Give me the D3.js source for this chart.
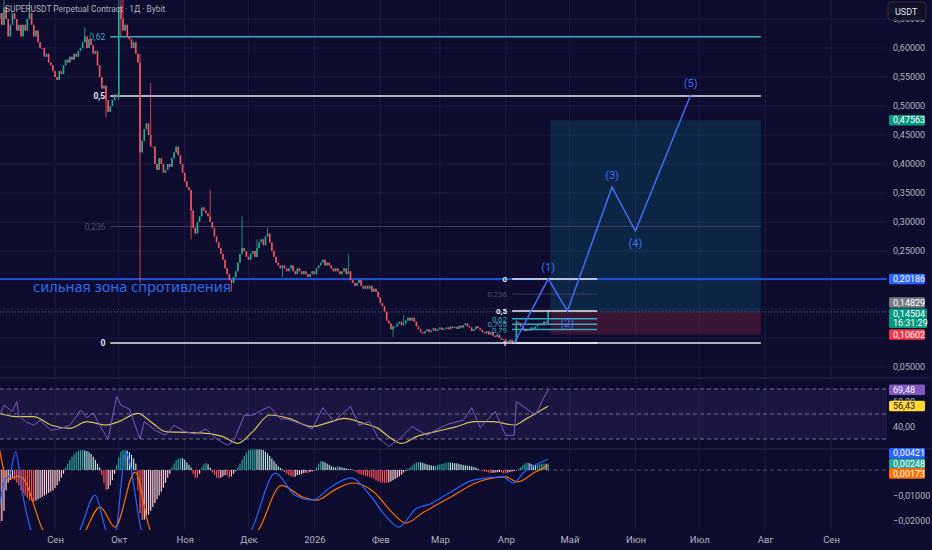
<!DOCTYPE html>
<meta charset="utf-8">
<html>
<head>
    <title>SUPERUSDT Perpetual Contract · 1Д · Bybit</title>
    <script type="text/javascript" src="https://cdn.jsdelivr.net/npm/d3@7"></script>
    <style>
        body { margin: 0; background: #0d0c2f; overflow: hidden; }
        svg text { font-family: Roboto, "Noto Sans", sans-serif; }
    </style>
</head>
<body>
<script>
    // ---- data ----
    const startDate = "2025-08-06";   // first daily candle
    const firstOpen = 0.65;

    // daily closes, Aug 6 2025 -> Apr 21 2026
    const closes = [
        0.66, 0.64, 0.67, 0.65, 0.62, 0.64, 0.66, 0.65, 0.63, 0.64,
        0.62, 0.64, 0.63, 0.65, 0.66, 0.64, 0.62, 0.63, 0.61, 0.60,
        0.60, 0.585, 0.59, 0.575, 0.57, 0.56, 0.55, 0.545, 0.56, 0.555,
        0.57, 0.58, 0.575, 0.585, 0.58, 0.59, 0.585, 0.595, 0.60, 0.61,
        0.62, 0.60, 0.615, 0.605, 0.59, 0.595, 0.57, 0.55, 0.53, 0.535,
        0.51, 0.49, 0.50, 0.51, 0.52, 0.515, 0.67, 0.65, 0.63, 0.64,
        0.62, 0.615, 0.60, 0.61, 0.59, 0.575, 0.42, 0.44, 0.46, 0.47,
        0.45, 0.43, 0.43, 0.40, 0.39, 0.41, 0.40, 0.385, 0.39, 0.40,
        0.395, 0.41, 0.42, 0.43, 0.415, 0.40, 0.385, 0.37, 0.36, 0.355,
        0.32, 0.29, 0.28, 0.30, 0.31, 0.325, 0.32, 0.315, 0.31, 0.30,
        0.29, 0.275, 0.265, 0.255, 0.245, 0.235, 0.22, 0.21, 0.20, 0.195,
        0.205, 0.215, 0.23, 0.245, 0.255, 0.25, 0.24, 0.235, 0.245, 0.25,
        0.24, 0.255, 0.265, 0.27, 0.26, 0.275, 0.28, 0.265, 0.25, 0.24,
        0.23, 0.225, 0.22, 0.225, 0.22, 0.215, 0.22, 0.225, 0.215, 0.21,
        0.22, 0.215, 0.21, 0.215, 0.21, 0.205, 0.21, 0.215, 0.21, 0.22,
        0.225, 0.23, 0.235, 0.225, 0.23, 0.225, 0.22, 0.215, 0.22, 0.215,
        0.21, 0.215, 0.22, 0.21, 0.215, 0.20, 0.195, 0.19, 0.195, 0.20,
        0.19, 0.185, 0.19, 0.185, 0.19, 0.18, 0.185, 0.18, 0.17, 0.16,
        0.155, 0.145, 0.13, 0.125, 0.115, 0.12, 0.12, 0.125, 0.128, 0.122,
        0.125, 0.13, 0.135, 0.13, 0.135, 0.128, 0.12, 0.115, 0.11, 0.108,
        0.112, 0.115, 0.11, 0.113, 0.117, 0.112, 0.115, 0.118, 0.114, 0.116,
        0.118, 0.115, 0.12, 0.117, 0.119, 0.116, 0.121, 0.118, 0.122, 0.125,
        0.12, 0.118, 0.112, 0.115, 0.12, 0.117, 0.114, 0.11, 0.108, 0.112,
        0.106, 0.11, 0.104, 0.102, 0.106, 0.10, 0.097, 0.098, 0.095, 0.093,
        0.097, 0.092, 0.095, 0.128, 0.125, 0.12, 0.116, 0.112, 0.115, 0.113,
        0.118, 0.116, 0.12, 0.123, 0.125, 0.122, 0.128, 0.126, 0.145
    ];
    // visible wicks: [candle index, high, low]
    const wicks = [
        [2, 0.69, null], [14, 0.68, null], [40, 0.635, null], [50, null, 0.48],
        [56, 0.70, 0.51], [57, 0.70, 0.62], [58, 0.69, null], [66, 0.59, 0.195],
        [71, 0.54, null], [90, null, 0.27], [99, 0.355, null], [109, null, 0.18],
        [114, 0.31, null], [121, 0.27, null], [126, 0.29, null], [133, null, 0.205],
        [164, 0.245, null], [185, null, 0.102], [190, 0.14, null], [241, null, 0.091],
        [243, 0.131, 0.093], [258, 0.148, 0.124]
    ];

    // MACD histogram, one value per candle
    const hist = [
        -0.021, -0.02, -0.016,
        -0.008, -0.005, -0.004, -0.003, -0.004, -0.005,
        -0.006, -0.008, -0.009, -0.010, -0.011, -0.012, -0.012, -0.0125, -0.012, -0.0115,
        -0.011, -0.0105, -0.01, -0.0095, -0.009, -0.0085, -0.008, -0.007, -0.006, -0.0045,
        -0.003, -0.0015,
        0.001, 0.0025, 0.004, 0.0052, 0.0062, 0.007, 0.0076, 0.0078, 0.0078, 0.0077,
        0.0074, 0.007, 0.0063, 0.0052, 0.004, 0.0025, 0.001,
        -0.002, -0.005, -0.0078, -0.0075, -0.006, -0.004, -0.0015,
        0.002, 0.005, 0.0072, 0.0078, 0.0078, 0.0076, 0.007, 0.006, 0.0045, 0.0025,
        -0.008, -0.017, -0.0196, -0.0195, -0.019, -0.0175, -0.016, -0.0145, -0.013, -0.0115,
        -0.01, -0.0085, -0.007, -0.005, -0.003, -0.0015,
        0.001, 0.0025, 0.0038, 0.0045, 0.0047, 0.0046, 0.004, 0.003, 0.002, 0.001,
        -0.0015, -0.003, -0.003, -0.0015,
        0.001, 0.0022, 0.0027, 0.0022, 0.001,
        -0.001, -0.002, -0.003, -0.0032, -0.003, -0.0025, -0.002, -0.0022, -0.003, -0.0025,
        -0.0015, -0.0005,
        0.001, 0.0025, 0.004, 0.0055, 0.0068, 0.0078, 0.0085, 0.0088, 0.0088, 0.0087,
        0.0085, 0.0082, 0.0078, 0.0072, 0.0065, 0.0055, 0.0045, 0.0035, 0.0025, 0.0015,
        0.0008, 0.0003,
        -0.0008, -0.0015, -0.002, -0.0025, -0.0027, -0.0026, -0.002, -0.0018, -0.0016, -0.0012,
        -0.001, -0.0012, -0.0008, -0.0005, -0.0002,
        0.001, 0.0025, 0.0035, 0.0033, 0.003, 0.0025, 0.002, 0.0015, 0.0012, 0.001,
        0.0015, 0.0012, 0.001, 0.0008, 0.0006, 0.0004, 0.0003, 0.0001,
        -0.0005, -0.001, -0.0015, -0.0018, -0.002, -0.0022, -0.0025, -0.0028, -0.003, -0.0035,
        -0.004, -0.0045, -0.0048, -0.005, -0.005, -0.005, -0.0048, -0.0045, -0.004, -0.0035,
        -0.003, -0.0025, -0.0018, -0.001, -0.0004,
        0.0005, 0.001, 0.0018, 0.0025, 0.003, 0.0031, 0.003, 0.0028, 0.0025, 0.0022,
        0.002, 0.0018, 0.0016, 0.0017, 0.002, 0.0022, 0.0024, 0.0026, 0.0028, 0.003,
        0.0029, 0.0028, 0.0027, 0.0026, 0.0024, 0.0022, 0.002, 0.0018, 0.0017, 0.0016,
        0.0014, 0.0012, 0.0009, 0.0005,
        -0.0002, -0.0004, -0.0006, -0.0008, -0.001, -0.0012, -0.0011, -0.001, -0.0009, -0.0008,
        -0.001, -0.0012, -0.0012, -0.001, -0.0008, -0.0006, -0.0004, -0.0002,
        0.0005, 0.001, 0.0018, 0.0025, 0.0028, 0.0027, 0.0024, 0.002, 0.0018, 0.002,
        0.0022, 0.0025, 0.0026, 0.0024, 0.0025
    ];
    // [candle index, value]
    const macdLine = [
        [0, -0.0137], [2.4, -0.0039], [4.7, -0.002], [7.5, 0.0071], [10.4, -0.0078], [14.6, -0.0235],
        [22.6, -0.035], [32, -0.03], [37.7, -0.0235], [44.8, -0.0098], [50, -0.0235], [53.8, -0.027],
        [59.4, 0.0067], [66.5, -0.0235], [74.5, -0.045], [93.4, -0.05], [107.5, -0.035], [118.4, -0.0235],
        [129.7, -0.0012], [138.7, -0.0098], [147.2, -0.0118], [155.7, -0.0067], [165.1, -0.0031],
        [174.1, -0.0098], [181.1, -0.0176], [187.7, -0.0224], [196.2, -0.0149], [201.4, -0.0137],
        [211.3, -0.009], [223.1, -0.0039], [236.8, -0.0027], [241.5, -0.0051], [246.7, -0.0008],
        [258, 0.00421]
    ];
    const signalLine = [
        [0, 0.0078], [3.8, -0.0039], [8.5, -0.0024], [10.8, -0.0031], [20.3, -0.0235], [27.4, -0.03],
        [36.8, -0.03], [40.6, -0.0235], [47.2, -0.0145], [54.2, -0.0224], [63.7, -0.0008], [70.8, -0.0235],
        [93.4, -0.04], [121.7, -0.0235], [132.5, -0.006], [142.5, -0.0106], [149.1, -0.0118],
        [157.5, -0.0078], [166, -0.0051], [176, -0.0086], [184.4, -0.0165], [191, -0.0208],
        [199.5, -0.0165], [211.3, -0.011], [225, -0.0047], [238.2, -0.0027], [243.4, -0.0047],
        [251.9, -0.0008], [258, 0.00173]
    ];
    const rsiLine = [
        [0, 49], [2, 57], [6, 52], [8, 60], [9, 49], [12, 44], [16, 41], [19, 45], [24, 37], [28, 38],
        [33, 41], [38, 53], [41, 47], [44, 51], [48, 38], [51, 30], [55, 64], [57, 57], [61, 54],
        [66, 30], [68, 44], [73, 37], [78, 33], [82, 41], [87, 36], [92, 34], [97, 38], [102, 30],
        [107, 25], [110, 28], [115, 49], [119, 49], [122, 52], [127, 56], [132, 46], [135, 46],
        [142, 42], [147, 38], [152, 55], [157, 44], [165, 56], [169, 41], [174, 44], [178, 31],
        [183, 24], [188, 30], [194, 40], [201, 33], [206, 38], [211, 42], [218, 45], [222, 55],
        [226, 39], [233, 52], [238, 33], [242, 33], [243, 60], [248, 54], [252, 49], [255, 60],
        [258, 69.48]
    ];
    const rsiMa = [
        [0, 50.5], [7.5, 47.9], [16, 47.9], [24, 41.2], [33, 38.5], [41, 43.9], [50, 41.2],
        [56, 43.9], [65, 50.5], [72, 42.5], [78, 35.9], [87, 35.3], [97, 34.5], [105, 31.9],
        [112, 26.5], [119, 35.9], [127, 49.2], [136, 46.5], [147, 39.9], [156, 43.9], [162, 46.5],
        [171, 42.5], [178, 38.5], [184, 30.5], [189, 26.5], [196, 31.9], [205, 35.9], [215, 39.9],
        [223, 43.9], [232, 43.9], [242, 41.2], [248, 46.5], [258, 56.43]
    ];

    // axes
    const monthTicks = ["2025-09-01", "2025-10-01", "2025-11-01", "2025-12-01", "2026-01-01", "2026-02-01",
        "2026-03-01", "2026-04-01", "2026-05-01", "2026-06-01", "2026-07-01", "2026-08-01", "2026-09-01"];
    const monthLabels = ["Сен", "Окт", "Ноя", "Дек", "2026", "Фев", "Мар", "Апр", "Май", "Июн", "Июл", "Авг", "Сен"];
    const gridPrices = [0.05, 0.10, 0.15, 0.20, 0.25, 0.30, 0.35, 0.40, 0.45, 0.50, 0.55, 0.60, 0.65];
    const priceTicks = [0.05, 0.25, 0.30, 0.35, 0.40, 0.45, 0.50, 0.55, 0.60, 0.65];
    const rsiTicks = [40, 60];
    const rsiBands = [70, 50, 30];
    const macdTicks = [-0.01, -0.02];

    // drawings
    const resistance = 0.20186;
    const resistanceText = "сильная зона спротивления";
    const lastPrice = 0.14504;
    const bigFibDates = ["2025-09-27", "2026-07-30"];
    const bigFibPrices = [0.0912, 0.943];          // level 0, level 1
    const bigFibLevels = [0, 0.236, 0.5, 0.62];
    const smallFibDates = ["2026-04-04", "2026-05-14"];
    const smallFibPrices = [0.2019, 0.0912];       // level 0, level 1
    const smallFibLevels = [0, 0.236, 0.5, 0.62, 0.705, 0.79, 1];
    const positionDates = ["2026-04-22", "2026-07-30"];
    const positionEntry = 0.145;
    const positionTarget = 0.47563;
    const positionStop = 0.10602;
    const waveDates = ["2026-04-05", "2026-04-21", "2026-04-30", "2026-05-21", "2026-06-01", "2026-06-27"];
    const wavePrices = [0.0912, 0.2019, 0.1466, 0.360, 0.2845, 0.519];
    const waveLabels = ["", "(1)", "(2)", "(3)", "(4)", "(5)"];

    const priceTags = [
        {v: 0.47563, text: ["0,47563"], fill: "#089981", shift: 0},
        {v: 0.20186, text: ["0,20186"], fill: "#2962ff", shift: 0},
        {v: 0.14829, text: ["0,14829"], fill: "#787b86", shift: -7.5},
        {v: 0.14504, text: ["0,14504", "16:31:29"], fill: "#089981", shift: 0},
        {v: 0.10602, text: ["0,10602"], fill: "#f23645", shift: 0}
    ];
    const rsiTags = [
        {v: 69.48, text: ["69,48"], fill: "#7e57c2", color: "#fff", shift: 0},
        {v: 56.43, text: ["56,43"], fill: "#fdd835", color: "#131722", shift: 0}
    ];
    const macdTags = [
        {v: 0.00421, text: ["0,00421"], fill: "#2962ff", shift: -6},
        {v: 0.00248, text: ["0,00248"], fill: "#26a69a", shift: 0},
        {v: 0.00173, text: ["0,00173"], fill: "#ff6d00", shift: 8}
    ];

    // ---- layout ----
    const W = 932, H = 550;
    const plotRight = 887;
    const pane = {price: [0, 378], rsi: [378, 449], macd: [449, 530]};
    const bg = "#0d0c2f", gridColor = "#1a1946", textColor = "#b2b5be";
    const upColor = "#22ab94", downColor = "#f7525f";
    const fibTeal = "#36a9be", fibWhite = "#e6e8ee", fibFaint = "#3c3c62";
    const waveColor = "#3d6ff0";

    const svg = d3.select("body").append("svg")
        .attr("width", W).attr("height", H);
    svg.append("rect").attr("width", W).attr("height", H).attr("fill", bg);

    const day0 = new Date(startDate);
    const dayAt = i => new Date(day0.getTime() + i * 864e5);
    const ds = s => new Date(s);

    const x = d3.scaleUtc()
        .domain([ds("2025-09-01"), ds("2026-09-01")])
        .range([55, 831]);
    const y = d3.scaleLinear().domain([0.05, 0.60]).range([367, 48]);
    const yR = d3.scaleLinear().domain([30, 70]).range([439, 389]);
    const yM = d3.scaleLinear().domain([-0.02, 0]).range([521, 470]);

    const comma = f => v => f(v).replace(".", ",");
    const fmtPrice = comma(d3.format(".5f"));
    const fmtRsi = comma(d3.format(".2f"));

    // clip paths for the three panes
    const defs = svg.append("defs");
    Object.entries(pane).forEach(([k, [t, b]]) => {
        defs.append("clipPath").attr("id", "clip-" + k)
            .append("rect").attr("x", 0).attr("y", t).attr("width", plotRight).attr("height", b - t);
    });

    // ---- grid ----
    const grid = svg.append("g");
    grid.selectAll(".vg").data(monthTicks).enter().append("line")
        .attr("x1", d => x(ds(d))).attr("x2", d => x(ds(d)))
        .attr("y1", 0).attr("y2", pane.macd[1])
        .attr("stroke", gridColor).attr("stroke-width", 1);
    grid.selectAll(".hg").data(gridPrices).enter().append("line")
        .attr("x1", 0).attr("x2", plotRight)
        .attr("y1", d => y(d)).attr("y2", d => y(d))
        .attr("stroke", gridColor).attr("stroke-width", 1);

    // ---- price pane ----
    const pp = svg.append("g").attr("clip-path", "url(#clip-price)");

    // long position tool
    const px0 = x(ds(positionDates[0])), px1 = x(ds(positionDates[1]));
    pp.append("rect").attr("x", px0).attr("width", px1 - px0)
        .attr("y", y(positionTarget)).attr("height", y(positionEntry) - y(positionTarget))
        .attr("fill", "rgba(16,140,160,0.2)");
    pp.append("rect").attr("x", px0).attr("width", px1 - px0)
        .attr("y", y(positionEntry)).attr("height", y(positionStop) - y(positionEntry))
        .attr("fill", "rgba(242,54,69,0.2)");

    // resistance line + caption
    pp.append("line").attr("x1", 0).attr("x2", plotRight)
        .attr("y1", y(resistance)).attr("y2", y(resistance))
        .attr("stroke", "#2962ff").attr("stroke-width", 1.5);
    pp.append("text").attr("x", 33).attr("y", y(resistance) + 13)
        .attr("fill", "#3566e6").attr("font-size", 14.5)
        .style("font-family", "'Noto Sans', sans-serif")
        .text(resistanceText);

    // current price dotted line
    pp.append("line").attr("x1", 0).attr("x2", plotRight)
        .attr("y1", y(lastPrice)).attr("y2", y(lastPrice))
        .attr("stroke", "#6a6d88").attr("stroke-dasharray", "1,2").attr("stroke-width", 1);

    // fibonacci retracements
    function fib(dates, prices, levels, labelSize) {
        const g = pp.append("g");
        const x0 = x(ds(dates[0])), x1 = x(ds(dates[1]));
        levels.forEach(L => {
            const p = prices[0] + L * (prices[1] - prices[0]);
            const col = (L === 0 || L === 0.5 || L === 1) ? fibWhite : (L === 0.236 ? fibFaint : fibTeal);
            g.append("line").attr("x1", x0).attr("x2", x1)
                .attr("y1", y(p)).attr("y2", y(p))
                .attr("stroke", col).attr("stroke-width", col === fibFaint ? 1 : 1.5);
            g.append("text").attr("x", x0 - 5).attr("y", y(p) + 3)
                .attr("text-anchor", "end").attr("font-size", labelSize)
                .attr("font-weight", col === fibWhite ? "bold" : "normal")
                .attr("fill", col === fibFaint ? "#4a4a70" : col)
                .text(String(L).replace(".", ","));
        });
    }
    fib(bigFibDates, bigFibPrices, bigFibLevels, 8.5);

    // candles
    let prev = firstOpen;
    const candles = closes.map((c, i) => {
        const o = prev; prev = c;
        return {i, o, c, h: Math.max(o, c), l: Math.min(o, c)};
    });
    wicks.forEach(([i, h, l]) => {
        if (h != null) candles[i].h = h;
        if (l != null) candles[i].l = l;
    });
    const cg = pp.append("g");
    cg.selectAll(".wick").data(candles).enter().append("line")
        .attr("x1", d => x(dayAt(d.i))).attr("x2", d => x(dayAt(d.i)))
        .attr("y1", d => y(d.h)).attr("y2", d => y(d.l))
        .attr("stroke", d => d.c >= d.o ? upColor : downColor).attr("stroke-width", 0.8);
    cg.selectAll(".body").data(candles).enter().append("rect")
        .attr("x", d => x(dayAt(d.i)) - 0.8).attr("width", 1.6)
        .attr("y", d => y(Math.max(d.o, d.c)))
        .attr("height", d => Math.max(0.8, Math.abs(y(d.o) - y(d.c))))
        .attr("fill", d => d.c >= d.o ? upColor : downColor);

    fib(smallFibDates, smallFibPrices, smallFibLevels, 8);

    // elliott wave projection
    const wave = waveDates.map((d, i) => ({d: ds(d), p: wavePrices[i], label: waveLabels[i]}));
    pp.append("path").datum(wave)
        .attr("d", d3.line().x(d => x(d.d)).y(d => y(d.p)))
        .attr("fill", "none").attr("stroke", waveColor).attr("stroke-width", 1.5);
    pp.selectAll(".wl").data(wave.filter(d => d.label)).enter().append("text")
        .attr("x", d => x(d.d)).attr("text-anchor", "middle")
        .attr("y", d => {
            const i = wave.indexOf(d);
            return wave[i - 1].p < d.p ? y(d.p) - 8 : y(d.p) + 16;
        })
        .attr("font-size", 11).attr("fill", waveColor)
        .text(d => d.label);

    // ---- RSI pane ----
    const rp = svg.append("g").attr("clip-path", "url(#clip-rsi)");
    rp.append("rect").attr("x", 0).attr("width", plotRight)
        .attr("y", yR(70)).attr("height", yR(30) - yR(70))
        .attr("fill", "rgba(126,87,194,0.12)");
    rp.selectAll(".band").data(rsiBands).enter().append("line")
        .attr("x1", 0).attr("x2", plotRight)
        .attr("y1", d => yR(d)).attr("y2", d => yR(d))
        .attr("stroke", "#6d6f8a").attr("stroke-dasharray", "4,3").attr("stroke-width", 1);
    rp.append("path").datum(rsiMa)
        .attr("d", d3.line().x(d => x(dayAt(d[0]))).y(d => yR(d[1])).curve(d3.curveMonotoneX))
        .attr("fill", "none").attr("stroke", "#d8c25e").attr("stroke-width", 1.2);
    rp.append("path").datum(rsiLine)
        .attr("d", d3.line().x(d => x(dayAt(d[0]))).y(d => yR(d[1])))
        .attr("fill", "none").attr("stroke", "#7e57c2").attr("stroke-width", 1);

    // ---- MACD pane ----
    const mp = svg.append("g").attr("clip-path", "url(#clip-macd)");
    mp.append("line").attr("x1", 0).attr("x2", plotRight)
        .attr("y1", yM(0)).attr("y2", yM(0))
        .attr("stroke", "#4a4b6a").attr("stroke-dasharray", "4,3");
    const histColor = (v, p) => v >= 0 ? (v >= p ? "#26a69a" : "#b2dfdb") : (v <= p ? "#ff5252" : "#ffcdd2");
    mp.selectAll(".hb").data(hist).enter().append("rect")
        .attr("x", (v, i) => x(dayAt(i)) - 0.6).attr("width", 1.2)
        .attr("y", v => Math.min(yM(v), yM(0)))
        .attr("height", v => Math.abs(yM(v) - yM(0)))
        .attr("fill", (v, i) => histColor(v, i > 0 ? hist[i - 1] : v));
    const mline = d3.line().x(d => x(dayAt(d[0]))).y(d => yM(d[1])).curve(d3.curveMonotoneX);
    mp.append("path").datum(signalLine).attr("d", mline)
        .attr("fill", "none").attr("stroke", "#ff6d00").attr("stroke-width", 1.2);
    mp.append("path").datum(macdLine).attr("d", mline)
        .attr("fill", "none").attr("stroke", "#2962ff").attr("stroke-width", 1.2);

    // pane separators
    [pane.rsi[0], pane.macd[0]].forEach(v => {
        svg.append("line").attr("x1", 0).attr("x2", W).attr("y1", v).attr("y2", v)
            .attr("stroke", "#272650").attr("stroke-width", 1);
    });

    // ---- axes ----
    function rightAxis(scale, ticks, fmt) {
        const g = svg.append("g").attr("transform", `translate(${plotRight},0)`)
            .call(d3.axisRight(scale).tickValues(ticks).tickSize(0).tickPadding(6).tickFormat(fmt));
        g.select(".domain").remove();
        g.selectAll("text").attr("fill", textColor).attr("font-size", 9)
            .style("font-family", "Roboto, sans-serif");
    }
    rightAxis(y, priceTicks, fmtPrice);
    rightAxis(yR, rsiTicks, fmtRsi);
    rightAxis(yM, macdTicks, fmtPrice);

    const xa = svg.append("g").attr("transform", "translate(0,536)")
        .call(d3.axisBottom(x).tickValues(monthTicks.map(ds)).tickSize(0).tickPadding(0)
            .tickFormat((d, i) => monthLabels[i]));
    xa.select(".domain").remove();
    xa.selectAll("text").attr("fill", textColor).attr("font-size", 9.5)
        .style("font-family", "Roboto, sans-serif");

    // coloured axis tags
    function tags(list, scale) {
        list.forEach(t => {
            const cy = scale(t.v) + t.shift;
            const h = t.text.length > 1 ? 19.5 : 10.5;
            const top = t.text.length > 1 ? cy - 3.5 : cy - h / 2;
            svg.append("rect").attr("x", 889).attr("y", top)
                .attr("width", t.text.length > 1 ? 38 : 36).attr("height", h)
                .attr("rx", 1.5).attr("fill", t.fill);
            t.text.forEach((s, k) => {
                svg.append("text").attr("x", 893).attr("y", top + 8.3 + k * 9.5)
                    .attr("font-size", 9).attr("fill", t.color || "#ffffff")
                    .style("font-family", "Roboto, sans-serif").text(s);
            });
        });
    }
    tags(priceTags, y);
    tags(rsiTags, yR);
    tags(macdTags, yM);

    // currency button
    svg.append("rect").attr("x", 888).attr("y", 2).attr("width", 38).attr("height", 18)
        .attr("rx", 3).attr("fill", "#121127").attr("stroke", "#2e2d4a");
    svg.append("text").attr("x", 895).attr("y", 14.5).attr("font-size", 9)
        .attr("fill", "#e0e3eb").text("USDT");

    // title
    svg.append("text").attr("x", 5).attr("y", 12).attr("font-size", 8.4)
        .attr("fill", "#c4c6ce").attr("fill-opacity", 0.9)
        .text("SUPERUSDT Perpetual Contract · 1Д · Bybit");
</script>
</body>
</html>
